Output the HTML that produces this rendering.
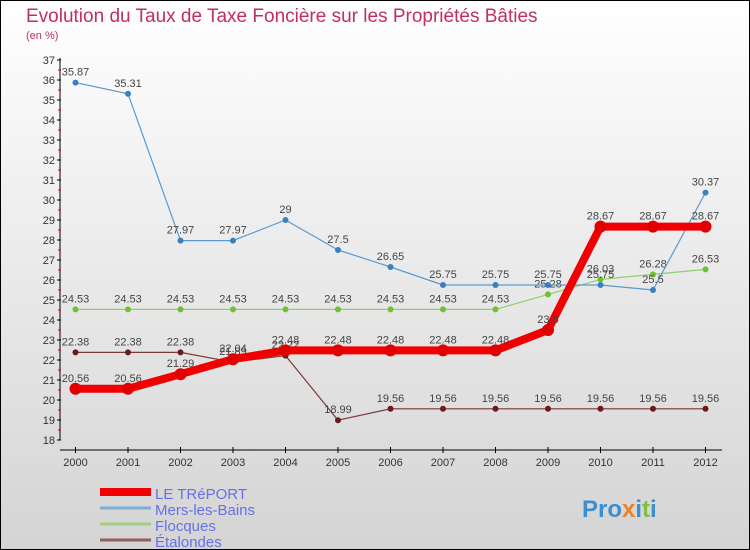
<!DOCTYPE html>
<html><head><meta charset="utf-8"><style>
body{margin:0;width:750px;height:550px;overflow:hidden}
svg{display:block}
text{font-family:"Liberation Sans",sans-serif}
</style></head><body>
<svg width="750" height="550">
<defs><linearGradient id="bg" x1="0" y1="0" x2="0" y2="1"><stop offset="0" stop-color="#ffffff"/><stop offset="1" stop-color="#d4d4d4"/></linearGradient></defs>
<rect x="0.5" y="0.5" width="749" height="549" fill="url(#bg)" stroke="#000"/>
<text x="26" y="22" font-size="19" fill="#c0305a">Evolution du Taux de Taxe Foncière sur les Propriétés Bâties</text>
<text x="26" y="39" font-size="11" fill="#c0305a">(en %)</text>
<g id="axes"></g>
<g id="series"></g>
<g id="legend"></g>
<text x="582" y="517" font-size="24" font-weight="bold" fill="#3a8fd0">Pro<tspan fill="#f08020">x</tspan>i<tspan fill="#80c040">t</tspan>i</text>
</svg>
<script>
const years=[2000,2001,2002,2003,2004,2005,2006,2007,2008,2009,2010,2011,2012];
const yTicks=[18,19,20,21,22,23,24,25,26,27,28,29,30,31,32,33,34,35,36,37];
const treport=[20.56,20.56,21.29,22.04,22.48,22.48,22.48,22.48,22.48,23.5,28.67,28.67,28.67];
const mers=[35.87,35.31,27.97,27.97,29,27.5,26.65,25.75,25.75,25.75,25.75,25.5,30.37];
const flocques=[24.53,24.53,24.53,24.53,24.53,24.53,24.53,24.53,24.53,25.28,26.03,26.28,26.53];
const etalondes=[22.38,22.38,22.38,21.89,22.22,18.99,19.56,19.56,19.56,19.56,19.56,19.56,19.56];
const seriesNames=["LE TRéPORT","Mers-les-Bains","Flocques","Étalondes"];
const NS="http://www.w3.org/2000/svg";
const X=i=>75.5+i*52.5;
const Y=v=>440-(v-18)*20;
function mk(tag,attrs,parent,txt){const e=document.createElementNS(NS,tag);for(const k in attrs)e.setAttribute(k,attrs[k]);if(txt!==undefined)e.textContent=txt;parent.appendChild(e);return e;}
const ax=document.getElementById('axes');
let e=mk('line',{x1:60,y1:58,x2:60,y2:440,stroke:'#000'},ax);


e=mk('line',{x1:60,y1:450,x2:722,y2:450,stroke:'#000'},ax);


yTicks.forEach(t=>{
  mk('line',{x1:57,y1:Y(t),x2:61,y2:Y(t),stroke:'#000'},ax);
  if(t<37) mk('line',{x1:58,y1:Y(t+0.5),x2:61,y2:Y(t+0.5),stroke:'#e00000'},ax);
  e=mk('text',{x:55,y:Y(t)+4,'font-size':11,fill:'#333','text-anchor':'end'},ax,t);
  
  
});
years.forEach((y,i)=>{
  mk('line',{x1:X(i),y1:447,x2:X(i),y2:453,stroke:'#000'},ax);
  e=mk('text',{x:X(i),y:466,'font-size':11,fill:'#333','text-anchor':'middle'},ax,y);
  
  
});
const sg=document.getElementById('series');
const defs=[[etalondes,'#7a3a3a','#6a1a1a',1.2,3],[flocques,'#90d070','#70c030',1.2,3],[mers,'#5a9ad0','#3a80c0',1.2,3],[treport,'#f00000','#e00000',8,6]];
defs.forEach(([d,c,pc,w,r],si)=>{
  const g=mk('g',{},sg);
  
  
  mk('polyline',{points:d.map((v,i)=>X(i)+','+Y(v)).join(' '),fill:'none',stroke:c,'stroke-width':w,'stroke-linejoin':'round'},g);
  d.forEach((v,i)=>{
    const p=mk('circle',{cx:X(i),cy:Y(v),r:r,fill:pc},g);
    
    
    const t=mk('text',{x:X(i),y:Y(v)-7,'font-size':11,fill:'#444','text-anchor':'middle'},g,String(v));
    
    
  });
});
const lg=document.getElementById('legend');
const lc=[['#f00000',8],['#7ab0d8',3],['#a0d080',3],['#906060',3]];
seriesNames.forEach((n,i)=>{
  const y=492+i*16;
  const g=mk('g',{},lg);
  
  
  mk('line',{x1:100,y1:y,x2:151,y2:y,stroke:lc[i][0],'stroke-width':lc[i][1]},g);
  mk('text',{x:155,y:y+7,'font-size':15,fill:'#6670e8'},g,n);
});
</script>
</body></html>
